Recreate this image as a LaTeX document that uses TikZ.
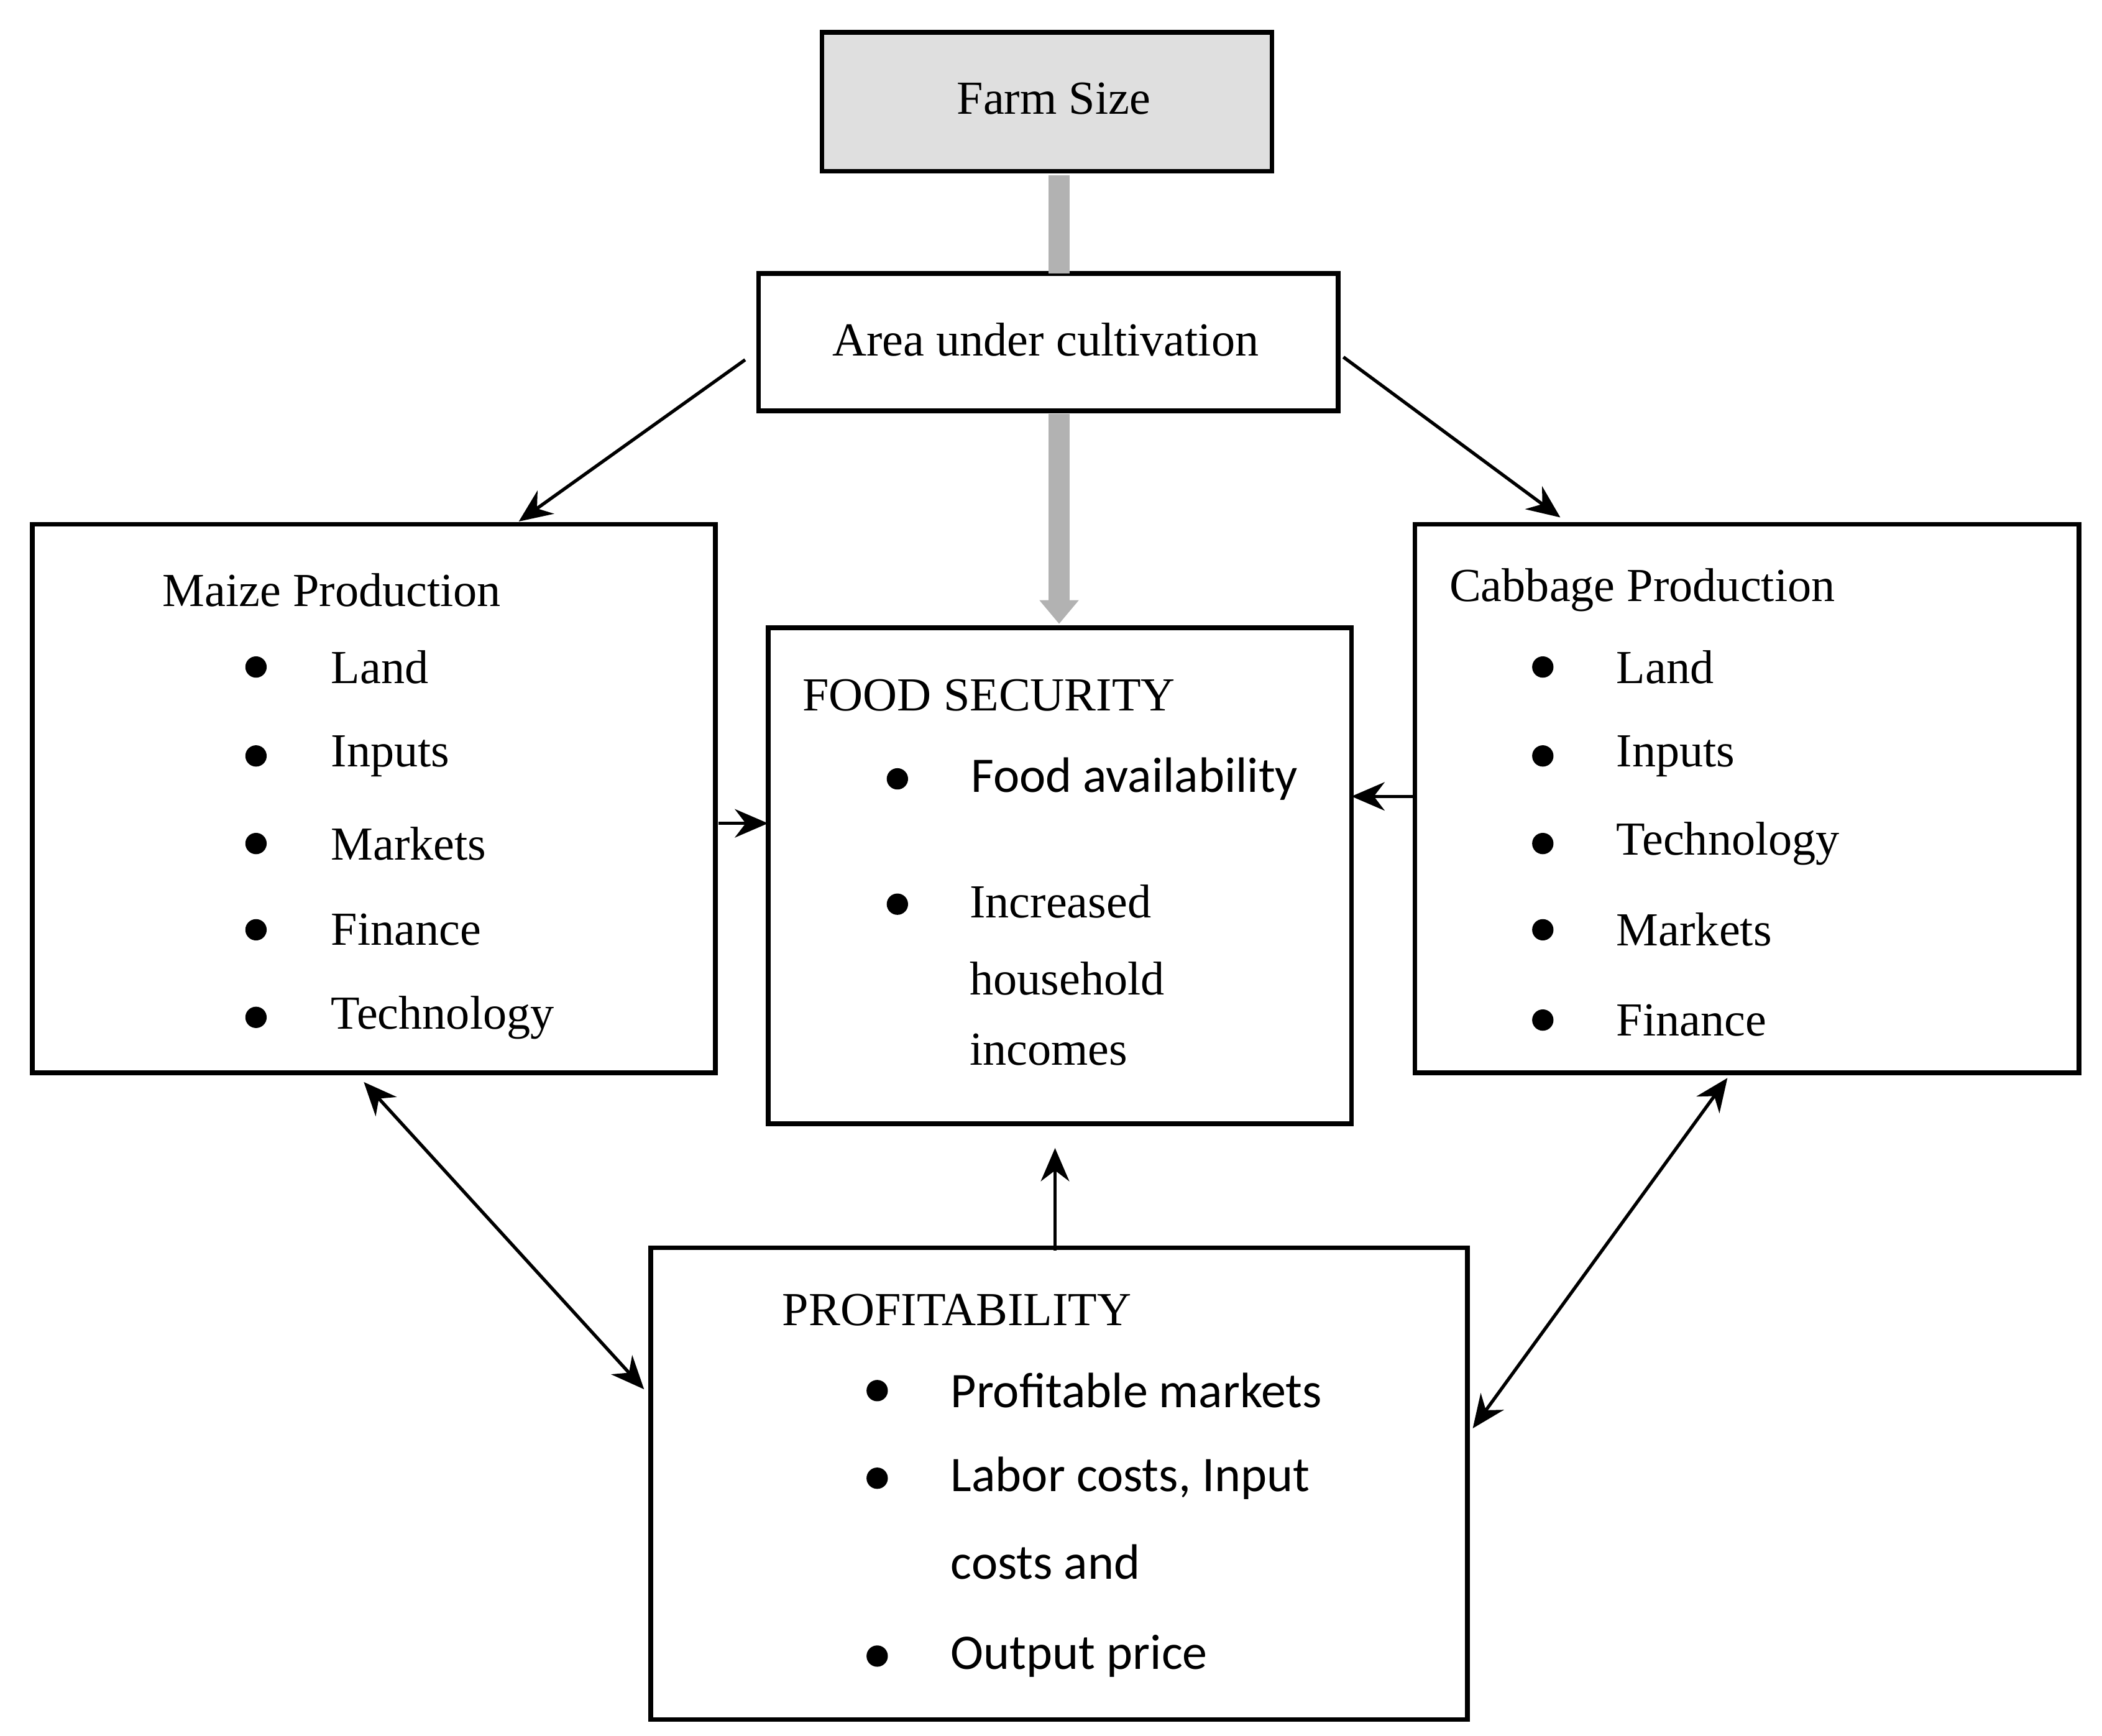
\documentclass[tikz,border=0pt]{standalone}
\usepackage{fontspec}
\setmainfont{Liberation Serif}
\newfontfamily\sfb{Carlito}
\usetikzlibrary{arrows.meta}
\begin{document}
\begin{tikzpicture}[x=0.01cm,y=-0.01cm,
  box/.style={draw,line width=1pt},
  txt/.style={anchor=west,inner sep=0pt,font=\fontsize{10}{12}\selectfont},
  stxt/.style={anchor=west,inner sep=0pt,font=\sfb\fontsize{10.5}{13}\selectfont},
  bul/.style={circle,fill,inner sep=0pt,minimum size=4.5pt},
  arr/.style={-{Stealth[length=7pt,width=6pt]},line width=0.7pt},
  darr/.style={{Stealth[length=7pt,width=6pt]}-{Stealth[length=7pt,width=6pt]},line width=0.7pt}]
\useasboundingbox (0,0) rectangle (1560,1288);
% boxes
\draw[box,fill=gray!25] (610,24) rectangle (944,127);
\node[txt,anchor=center] (fs) at (782,73) {Farm Size};
\draw[box] (563,203) rectangle (993,305);
\node[txt,anchor=center] (area) at (776,252) {Area under cultivation};
\draw[box] (24,389) rectangle (531,796);
\draw[box] (570,466) rectangle (1003,834);
\draw[box] (1050,389) rectangle (1543,796);
\draw[box] (483,926) rectangle (1089,1276);
% named points
\coordinate (fsb) at (786,130); \coordinate (at) at (786,203);
\coordinate (ab) at (786,307); \coordinate (ft) at (786,463);
\coordinate (al) at (553,267); \coordinate (mt) at (385,387);
\coordinate (ar) at (997,265); \coordinate (ct) at (1158,384);
\coordinate (mr) at (533,611); \coordinate (fl) at (570,611);
\coordinate (cl) at (1050,591); \coordinate (fr) at (1003,591);
\coordinate (pt) at (783,928); \coordinate (fb) at (783,852);
\coordinate (mb) at (270,803); \coordinate (pl) at (478,1031);
\coordinate (cb) at (1282,800); \coordinate (pr) at (1093,1060);
% arrows
\draw[gray!60,line width=4.5pt] (fsb) -- (at);
\draw[gray!60,line width=4.5pt,-{Triangle[length=5pt,width=8pt]}] (ab) -- (ft);
\draw[arr] (al) -- (mt);
\draw[arr] (ar) -- (ct);
\draw[arr] (mr) -- (fl);
\draw[arr] (cl) -- (fr);
\draw[arr] (pt) -- (fb);
\draw[darr] (mb) -- (pl);
\draw[darr] (cb) -- (pr);
% maize
\node[txt] (m0) at (120,438) {Maize Production};
\foreach \y/\t in {495/Land,561/Inputs,626/Markets,690/Finance,755/Technology}{
  \node[bul] at (190,\y) {}; \node[txt] at (245,\y) {\t};}
% cabbage
\node[txt] (c0) at (1075,438) {Cabbage Production};
\foreach \y/\t in {495/Land,561/Inputs,626/Technology,690/Markets,757/Finance}{
  \node[bul] at (1145,\y) {}; \node[txt] at (1199,\y) {\t};}
% food security
\node[txt] (f0) at (595,516) {FOOD SECURITY};
\node[bul] at (666,578) {}; \node[stxt] at (720,578) {Food availability};
\node[bul] at (666,671) {};
\node[txt] at (719,669) {Increased};
\node[txt] at (719,726) {household};
\node[txt] at (719,779) {incomes};
% profitability
\node[txt] (p0) at (580,972) {PROFITABILITY};
\node[bul] at (651,1032) {}; \node[stxt] at (705,1032) {Profitable markets};
\node[bul] at (651,1097) {}; \node[stxt] at (705,1097) {Labor costs, Input};
\node[stxt] at (705,1159) {costs and};
\node[bul] at (651,1229) {}; \node[stxt] at (705,1229) {Output price};
\end{tikzpicture}
\end{document}
